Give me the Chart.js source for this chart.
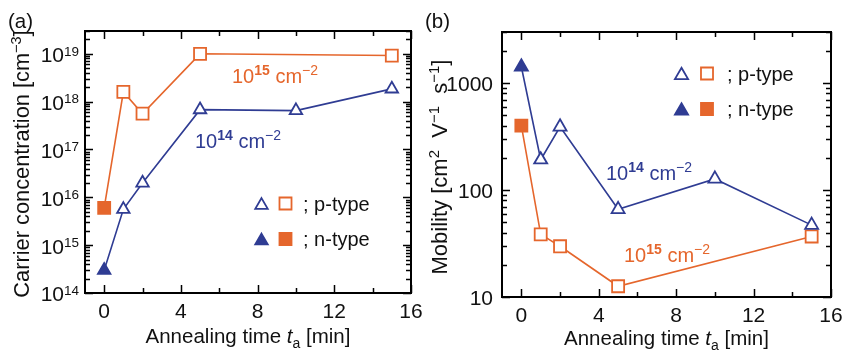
<!DOCTYPE html>
<html><head><meta charset="utf-8">
<script src="https://cdn.jsdelivr.net/npm/chart.js@4/dist/chart.umd.min.js"></script>
<style>
html,body{margin:0;padding:0;background:#fff;}
#wrap{position:relative;width:853px;height:356px;background:#fff;}
canvas{position:absolute;left:0;top:0;}
</style>
</head><body>
<div id="wrap"><canvas id="ca" width="853" height="356"></canvas><canvas id="cb" width="853" height="356"></canvas></div>
<script>
// ---- data ----
const times14 = [0, 1, 2, 5, 10, 15];
const times15 = [0, 1, 2, 5, 15];
const types14 = ['n', 'p', 'p', 'p', 'p', 'p'];
const types15 = ['n', 'p', 'p', 'p', 'p'];
const conc14 = [3.0e14, 5.6e15, 2.0e16, 6.8e17, 6.5e17, 1.85e18];
const conc15 = [6.0e15, 1.6e18, 5.6e17, 1.0e19, 9.2e18];
const mob14 = [1420, 192, 390, 66, 127, 47];
const mob15 = [400, 38.5, 29.8, 12.6, 36.8];
const timeTicks = [0, 4, 8, 12, 16];
const concTickExps = [14, 15, 16, 17, 18, 19];
const mobTicks = [10, 100, 1000];
const doseLabels = ['14', '15'];

const BLUE = '#2F3C93';
const ORANGE = '#E5662C';
const FONT = '"Liberation Sans", Arial, Helvetica, sans-serif';

function setFont(ctx, s) {
  ctx.font = (s.style || 'normal') + ' ' + (s.weight || 'normal') + ' ' + s.size + 'px ' + FONT;
}
function N(text, size) { return {text, size: size || 20.5}; }
function SUP(text, size, dy, weight) { return {text, size: size || 13.5, dy: dy == null ? -8 : dy, weight}; }
function richWidth(ctx, segs) {
  let w = 0;
  for (const s of segs) { setFont(ctx, s); w += ctx.measureText(s.text).width; }
  return w;
}
function drawRich(ctx, segs, x, y, align, color) {
  const w = richWidth(ctx, segs);
  let cx = align === 'center' ? x - w / 2 : align === 'right' ? x - w : x;
  ctx.fillStyle = color || '#111';
  ctx.textBaseline = 'alphabetic';
  ctx.textAlign = 'left';
  for (const s of segs) {
    setFont(ctx, s);
    ctx.fillText(s.text, cx, y + (s.dy || 0));
    cx += ctx.measureText(s.text).width;
  }
}
function marker(ctx, style, x, y, r, color, filled) {
  ctx.save();
  ctx.beginPath();
  if (style === 'triangle') {
    ctx.moveTo(x, y - r);
    ctx.lineTo(x + 0.866 * r, y + 0.5 * r);
    ctx.lineTo(x - 0.866 * r, y + 0.5 * r);
    ctx.closePath();
  } else {
    const h = Math.SQRT1_2 * r;
    ctx.rect(x - h, y - h, 2 * h, 2 * h);
  }
  ctx.fillStyle = filled ? color : '#fff';
  ctx.strokeStyle = color;
  ctx.lineWidth = 1.8;
  ctx.fill();
  ctx.stroke();
  ctx.restore();
}

function makeDataset(times, vals, types, color, style, radius) {
  return {
    data: times.map((t, i) => ({x: t, y: vals[i]})),
    showLine: true,
    borderColor: color,
    borderWidth: 1.6,
    pointStyle: style,
    pointRadius: radius,
    pointBorderWidth: 1.8,
    pointBorderColor: color,
    pointBackgroundColor: types.map(t => t === 'n' ? color : '#fff'),
    clip: false
  };
}

function panelPlugin(cfg) {
  return {
    id: 'panel_' + cfg.id,
    afterDraw(chart) {
      const ctx = chart.ctx;
      const a = chart.chartArea;
      const xs = chart.scales.x, ys = chart.scales.y;
      ctx.save();
      // ticks
      ctx.strokeStyle = '#000';
      ctx.lineWidth = 1.5;
      ctx.beginPath();
      for (let v = 0; v <= 16; v += 2) {
        const px = Math.round(xs.getPixelForValue(v)) + 0.5;
        const len = timeTicks.includes(v) ? 8 : 5;
        ctx.moveTo(px, a.bottom); ctx.lineTo(px, a.bottom - len);
        ctx.moveTo(px, a.top); ctx.lineTo(px, a.top + len);
      }
      const e0 = Math.floor(Math.log10(ys.min)), e1 = Math.ceil(Math.log10(ys.max));
      for (let e = e0; e <= e1; e++) {
        for (let m = 1; m <= 9; m++) {
          const v = m * Math.pow(10, e);
          if (v < ys.min * 0.999 || v > ys.max * 1.001) continue;
          const py = Math.round(ys.getPixelForValue(v)) + 0.5;
          const len = m === 1 ? 8 : 5;
          ctx.moveTo(a.left, py); ctx.lineTo(a.left + len, py);
          ctx.moveTo(a.right, py); ctx.lineTo(a.right - len, py);
        }
      }
      ctx.stroke();
      // frame
      ctx.lineWidth = 2;
      ctx.strokeRect(a.left, a.top, a.right - a.left, a.bottom - a.top);
      // x tick labels
      for (const v of timeTicks) {
        drawRich(ctx, [N(String(v), 21)], xs.getPixelForValue(v), a.bottom + cfg.xLabelOff, 'center', '#111');
      }
      // y tick labels
      for (const t of cfg.yTicks) {
        drawRich(ctx, t.segs, a.left - cfg.yLabelGap, ys.getPixelForValue(t.value) + 8.4, 'right', '#111');
      }
      // x title
      drawRich(ctx, [N('Annealing time '), {text: 't', size: 20.5, style: 'italic'}, {text: 'a', size: 14, dy: 5}, N(' [min]')],
        (a.left + a.right) / 2, cfg.xTitleY, 'center', '#111');
      // y title (rotated)
      ctx.save();
      ctx.translate(cfg.yTitleX, cfg.yTitleCY);
      ctx.rotate(-Math.PI / 2);
      drawRich(ctx, cfg.yTitle, 0, 0, 'center', '#111');
      ctx.restore();
      // panel label
      drawRich(ctx, [N(cfg.panel, 20.5)], cfg.panelX, 28, 'left', '#111');
      // legend
      const L = cfg.legend;
      marker(ctx, 'triangle', L.x1, L.y1 + 1.8, L.tr, BLUE, false);
      marker(ctx, 'rect', L.x2, L.y1, 8.5, ORANGE, false);
      drawRich(ctx, [N('; p-type', 20)], L.tx, L.y1 + 7, 'left', '#111');
      marker(ctx, 'triangle', L.x1, L.y2 + 1.8, L.tr, BLUE, true);
      marker(ctx, 'rect', L.x2, L.y2, 8.5, ORANGE, true);
      drawRich(ctx, [N('; n-type', 20)], L.tx, L.y2 + 7, 'left', '#111');
      // dose annotations
      for (const an of cfg.annots) {
        drawRich(ctx, [N('10', 20), SUP(an.exp, 14, -8, 'bold'), N(' cm', 20), SUP('\u22122', 14, -8)], an.x, an.y, 'left', an.color);
      }
      ctx.restore();
    }
  };
}

function makeChart(id, cfg) {
  return new Chart(document.getElementById(id), {
    type: 'scatter',
    data: {datasets: cfg.datasets},
    options: {
      responsive: false, animation: false, events: [],
      layout: {padding: cfg.padding},
      plugins: {legend: {display: false}, tooltip: {enabled: false}},
      scales: {
        x: {type: 'linear', display: false, min: -1, max: 16, bounds: 'data'},
        y: {type: 'logarithmic', display: false, min: cfg.ymin, max: cfg.ymax, bounds: 'data'}
      }
    },
    plugins: [panelPlugin(cfg)]
  });
}

makeChart('ca', {
  id: 'a',
  padding: {left: 85, top: 31, right: 853 - 411, bottom: 356 - 293},
  ymin: 1e14, ymax: 3e19,
  datasets: [
    makeDataset(times14, conc14, types14, BLUE, 'triangle', 7.2),
    makeDataset(times15, conc15, types15, ORANGE, 'rect', 8.5)
  ],
  yTicks: concTickExps.map(e => ({value: Math.pow(10, e), segs: [N('10', 21), SUP(String(e), 13.5, -6.7)]})),
  yLabelGap: 6,
  xLabelOff: 25,
  xTitleY: 343,
  yTitleX: 29,
  yTitleCY: 164,
  yTitle: [N('Carrier concentration [cm', 21.8), SUP('\u22123', 14.5, -8.5), N(']', 21.8)],
  panel: '(a)', panelX: 8,
  legend: {x1: 261.5, x2: 285.5, tx: 303, y1: 203.5, y2: 239, tr: 7.2},
  annots: [
    {exp: doseLabels[1], x: 232, y: 83, color: ORANGE},
    {exp: doseLabels[0], x: 195, y: 148, color: BLUE}
  ]
});

makeChart('cb', {
  id: 'b',
  padding: {left: 502, top: 32, right: 22, bottom: 356 - 297},
  ymin: 10, ymax: 3000,
  datasets: [
    makeDataset(times14, mob14, types14, BLUE, 'triangle', 7.5),
    makeDataset(times15, mob15, types15, ORANGE, 'rect', 8.5)
  ],
  yTicks: mobTicks.map(v => ({value: v, segs: [N(String(v), 21)]})),
  yLabelGap: 9,
  xLabelOff: 25,
  xTitleY: 345,
  yTitleX: 447,
  yTitleCY: 167,
  yTitle: [N('Mobility [cm', 22), SUP('2', 15, -8.5), N('  V', 22), SUP('\u22121', 15, -8.5), N('  s', 22), SUP('\u22121', 15, -8.5), N(']', 22)],
  panel: '(b)', panelX: 425,
  legend: {x1: 681.5, x2: 707, tx: 727, y1: 73.5, y2: 109, tr: 7.6},
  annots: [
    {exp: doseLabels[0], x: 606, y: 180, color: BLUE},
    {exp: doseLabels[1], x: 624, y: 262, color: ORANGE}
  ]
});
</script>
</body></html>
